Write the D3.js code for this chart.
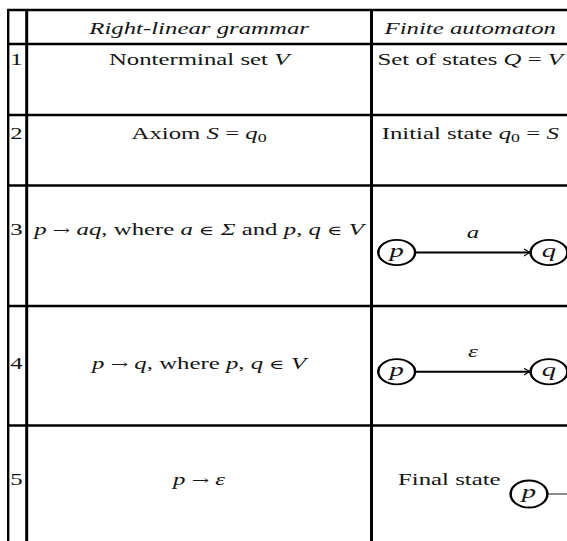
<!DOCTYPE html>
<html>
<head>
<meta charset="utf-8">
<script src="https://cdn.jsdelivr.net/npm/d3@7"></script>
<style>
  html, body { margin: 0; padding: 0; background: #fff; overflow: hidden; }
  svg { display: block; }
  text { white-space: pre; }
</style>
</head>
<body>
<svg></svg>
<script>
const width = 567;
const height = 541;
const SX = 1.46; // the whole picture is stretched sideways
const TX = 1.55; // stretch for the text

// table content: segments are [text, kind]
// kind r = roman, i = italic, s = subscript, m = math symbol
const rowNumbers = ["1", "2", "3", "4", "5"];
const headers = ["Right-linear grammar", "Finite automaton"];
const grammarRules = [
  [["Nonterminal set ", "r"], ["V", "i"]],
  [["Axiom ", "r"], ["S", "i"], [" = ", "r"], ["q", "i"], ["0", "s"]],
  [["p", "i"], [" ", "r"], ["→", "m"], [" ", "r"], ["aq", "i"], [", where ", "r"], ["a", "i"], [" ", "r"], ["∈", "m"], [" ", "r"], ["Σ", "i"],
   [" and ", "r"], ["p", "i"], [", ", "r"], ["q", "i"], [" ", "r"], ["∈", "m"], [" ", "r"], ["V", "i"]],
  [["p", "i"], [" ", "r"], ["→", "m"], [" ", "r"], ["q", "i"], [", where ", "r"], ["p", "i"], [", ", "r"], ["q", "i"],
   [" ", "r"], ["∈", "m"], [" ", "r"], ["V", "i"]],
  [["p", "i"], [" ", "r"], ["→", "m"], [" ", "r"], ["ε", "i"]],
];
const automatonTexts = [
  [["Set of states ", "r"], ["Q", "i"], [" = ", "r"], ["V", "i"]],
  [["Initial state ", "r"], ["q", "i"], ["0", "s"], [" = ", "r"], ["S", "i"]],
  null,
  null,
  [["Final state", "r"]],
];
const transitionFrom = [null, null, "p", "p", null];
const transitionTo = [null, null, "q", "q", null];
const transitionLabels = [null, null, "a", "ε", null];
const finalStates = [null, null, null, null, "p"];

// layout
const colEdges = [8.2, 26.7, 371.5, 569];
const rowEdges = [10, 44, 115, 185.5, 306, 425.5, 560];
const baselines = [34, 65, 139, 235, 369, 485];
const diagramY = [null, null, 252.5, 371.7, 494];
const stateX = { from: 396.7, to: 549, final: 529 };
const R = 12.6;
const FONT = "'Liberation Serif', 'DejaVu Serif', serif";

const svg = d3.select("svg").attr("width", width).attr("height", height)
  .attr("font-family", FONT).attr("font-size", 16).attr("fill", "#151515");

const colCenter = (i) => (colEdges[i] + colEdges[i + 1]) / 2;

function richText(g, segs, x, y, anchor = "middle") {
  const t = g.append("text")
    .attr("transform", `translate(${x},${y}) scale(${TX},1)`)
    .attr("text-anchor", anchor);
  let shifted = false;
  segs.forEach(([s, k]) => {
    const ts = t.append("tspan").text(s);
    if (k === "i") ts.attr("font-style", "italic");
    if (k === "m") ts.attr("font-family", "'DejaVu Serif', serif").attr("font-size", 13.5).attr("font-weight", 300);
    if (k === "s") {
      ts.attr("font-size", 11.5).attr("dy", 3);
      shifted = true;
    } else if (shifted) {
      ts.attr("dy", -3);
      shifted = false;
    }
  });
  return t;
}

// grid lines
const grid = svg.append("g").attr("stroke", "#000");
grid.selectAll("line.h")
  .data(rowEdges.slice(0, -1))
  .join("line")
  .attr("class", "h")
  .attr("x1", colEdges[0] - 1).attr("x2", colEdges[3])
  .attr("y1", (d) => d).attr("y2", (d) => d)
  .attr("stroke-width", 2.3);
grid.selectAll("line.v")
  .data(colEdges)
  .join("line")
  .attr("class", "v")
  .attr("x1", (d) => d).attr("x2", (d) => d)
  .attr("y1", rowEdges[0] - 1.1).attr("y2", rowEdges[rowEdges.length - 1])
  .attr("stroke-width", (d, i) => (i === 0 ? 2.4 : 3));

// header
headers.forEach((h, i) => {
  richText(svg, [[h, "i"]], colCenter(i + 1), baselines[0]);
});

// rows
rowNumbers.forEach((n, i) => {
  const y = baselines[i + 1];
  richText(svg, [[n, "r"]], colCenter(0) - 1, y);
  richText(svg, grammarRules[i], colCenter(1), y);
});

function drawState(g, cx, cy, name, ry = R) {
  const s = g.append("g").attr("transform", `translate(${cx},${cy}) scale(${SX},${ry / R})`);
  s.append("circle").attr("r", R).attr("fill", "#fff").attr("stroke", "#000").attr("stroke-width", 1.7);
  s.append("text")
    .attr("transform", `scale(${TX / SX},${R / ry})`)
    .attr("text-anchor", "middle").attr("y", 4)
    .attr("font-size", 18.5)
    .attr("font-style", "italic").text(name);
}

function drawArrow(g, x1, x2, y, sw) {
  g.append("line").attr("x1", x1).attr("x2", x2 - 1).attr("y1", y).attr("y2", y)
    .attr("stroke", "#000").attr("stroke-width", sw);
  g.append("path")
    .attr("d", `M${x2 - 6.5},${y - 3.4} Q${x2 - 2.5},${y - 0.6} ${x2},${y} Q${x2 - 2.5},${y + 0.6} ${x2 - 6.5},${y + 3.4}`)
    .attr("fill", "none").attr("stroke", "#000").attr("stroke-width", 1.2);
}

const auto = svg.append("g");
automatonTexts.forEach((segs, i) => {
  const y = baselines[i + 1];
  const cy = diagramY[i];
  if (transitionLabels[i]) {
    const x1 = stateX.from + R * SX;
    const x2 = stateX.to - R * SX;
    drawArrow(auto, x1, x2, cy, 1.9);
    richText(auto, [[transitionLabels[i], "i"]], (stateX.from + stateX.to) / 2, cy - 15);
    drawState(auto, stateX.from, cy, transitionFrom[i]);
    drawState(auto, stateX.to, cy, transitionTo[i]);
  }
  if (finalStates[i]) {
    const cx = stateX.final;
    drawArrow(auto, cx + R * SX, cx + R * SX + 30, cy, 0.9);
    drawState(auto, cx, cy, finalStates[i], 13.5);
    richText(auto, segs, cx - R * SX - 10, y, "end");
  } else if (segs) {
    richText(auto, segs, colCenter(2), y);
  }
});
</script>
</body>
</html>
